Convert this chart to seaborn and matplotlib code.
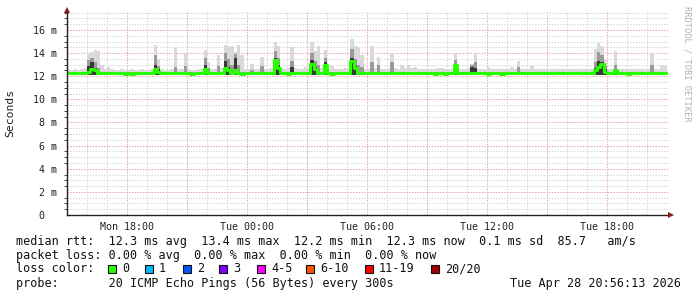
import numpy as np
import pandas as pd
import matplotlib
matplotlib.use("Agg")
import matplotlib.pyplot as plt
import seaborn as sns
from matplotlib.patches import Rectangle
from matplotlib.lines import Line2D
from matplotlib.ticker import MultipleLocator

# ---------------- data ----------------
start_hour = 15.0          # Mon 15:00 at the left edge
step_minutes = 10

median_ms = [
    12.3, 12.3, 12.3, 12.3, 12.3, 12.3, 12.4, 12.6, 12.5, 12.3,
    12.3, 12.3, 12.3, 12.3, 12.3, 12.3, 12.3, 12.2, 12.3, 12.2,
    12.3, 12.3, 12.3, 12.3, 12.3, 12.3, 12.6, 12.4, 12.3, 12.3,
    12.3, 12.3, 12.3, 12.3, 12.3, 12.3, 12.3, 12.2, 12.3, 12.3,
    12.3, 12.6, 12.3, 12.3, 12.3, 12.3, 12.3, 12.7, 12.5, 12.3,
    12.5, 12.3, 12.2, 12.3, 12.3, 12.3, 12.3, 12.3, 12.3, 12.3,
    12.3, 12.3, 13.4, 12.7, 12.3, 12.3, 12.2, 12.3, 12.3, 12.3,
    12.3, 12.3, 12.3, 13.1, 12.6, 12.3, 12.3, 13.0, 12.3, 12.2,
    12.3, 12.3, 12.3, 12.3, 12.3, 13.3, 12.7, 12.3, 12.3, 12.3,
    12.3, 12.3, 12.3, 12.3, 12.3, 12.3, 12.3, 12.3, 12.3, 12.3,
    12.3, 12.3, 12.3, 12.3, 12.3, 12.3, 12.3, 12.3, 12.3, 12.3,
    12.2, 12.3, 12.3, 12.2, 12.3, 12.3, 13.0, 12.3, 12.3, 12.3,
    12.3, 12.3, 12.3, 12.3, 12.3, 12.3, 12.2, 12.3, 12.3, 12.3,
    12.2, 12.3, 12.3, 12.3, 12.3, 12.3, 12.3, 12.3, 12.3, 12.3,
    12.3, 12.3, 12.3, 12.3, 12.3, 12.3, 12.3, 12.3, 12.3, 12.3,
    12.3, 12.3, 12.3, 12.3, 12.3, 12.3, 12.3, 12.3, 12.5, 12.8,
    13.1, 12.4, 12.3, 12.3, 12.5, 12.3, 12.3, 12.3, 12.2, 12.3,
    12.3, 12.3, 12.3, 12.3, 12.3, 12.3, 12.3, 12.3, 12.3, 12.3,
]

smoke_top = [
    12.6, 12.55, 12.6, 12.55, 12.6, 12.7, 14.0, 14.1, 14.3, 14.2,
    13.0, 12.6, 12.8, 12.6, 12.55, 12.55, 12.6, 12.55, 12.55, 12.6,
    12.55, 12.55, 12.6, 12.55, 12.55, 12.6, 14.7, 13.5, 12.6, 12.55,
    12.55, 12.6, 14.5, 12.6, 12.6, 14.0, 12.6, 12.55, 12.55, 12.6,
    12.6, 14.3, 13.2, 12.6, 12.6, 13.8, 12.7, 14.7, 14.6, 14.6,
    14.1, 14.7, 13.8, 12.6, 12.6, 13.1, 12.6, 12.6, 13.7, 12.6,
    12.6, 12.7, 15.0, 14.6, 12.6, 12.6, 12.7, 14.5, 12.7, 12.6,
    12.6, 12.8, 12.6, 15.0, 14.2, 14.6, 12.7, 14.3, 12.6, 12.9,
    12.6, 12.6, 12.6, 12.7, 12.6, 15.2, 14.6, 14.5, 13.8, 12.6,
    12.6, 14.6, 12.7, 13.7, 12.6, 12.6, 12.6, 14.0, 12.7, 12.6,
    13.0, 12.7, 13.0, 12.7, 12.8, 12.6, 12.6, 12.6, 12.6, 12.6,
    12.6, 12.7, 12.7, 12.6, 12.6, 12.6, 13.9, 12.6, 12.6, 12.6,
    12.7, 13.1, 14.0, 12.6, 12.6, 12.6, 12.8, 12.6, 12.6, 12.6,
    12.6, 12.6, 12.6, 12.8, 12.6, 13.3, 12.6, 12.6, 12.6, 12.9,
    12.6, 12.6, 12.6, 12.6, 12.6, 12.6, 12.6, 12.6, 12.6, 12.6,
    12.6, 12.6, 12.6, 12.6, 12.6, 12.6, 12.6, 12.6, 14.4, 14.9,
    14.6, 13.5, 12.6, 12.6, 14.2, 12.6, 12.6, 12.6, 12.6, 12.6,
    12.6, 12.6, 12.6, 12.6, 12.6, 14.0, 12.6, 12.6, 13.0, 12.9,
]

smoke_mid = [
    12.4, 12.4, 12.4, 12.4, 12.4, 12.4, 13.4, 13.6, 13.2, 12.7,
    12.4, 12.4, 12.4, 12.4, 12.4, 12.4, 12.4, 12.4, 12.4, 12.4,
    12.4, 12.4, 12.4, 12.4, 12.4, 12.4, 13.8, 12.9, 12.4, 12.4,
    12.4, 12.4, 12.8, 12.4, 12.4, 12.9, 12.4, 12.4, 12.4, 12.4,
    12.4, 13.6, 12.7, 12.4, 12.4, 12.9, 12.4, 14.0, 13.5, 13.0,
    13.9, 13.0, 12.4, 12.4, 12.4, 12.5, 12.4, 12.4, 12.9, 12.4,
    12.4, 12.4, 14.2, 13.6, 12.4, 12.4, 12.4, 13.3, 12.4, 12.4,
    12.4, 12.4, 12.4, 14.0, 13.3, 13.0, 12.4, 13.6, 12.4, 12.4,
    12.4, 12.4, 12.4, 12.4, 12.4, 14.4, 13.5, 13.0, 12.8, 12.4,
    12.4, 13.2, 12.4, 13.0, 12.4, 12.4, 12.4, 13.2, 12.4, 12.4,
    12.4, 12.4, 12.4, 12.4, 12.4, 12.4, 12.4, 12.4, 12.4, 12.4,
    12.4, 12.4, 12.4, 12.4, 12.4, 12.4, 13.4, 12.4, 12.4, 12.4,
    12.4, 13.0, 13.2, 12.4, 12.4, 12.4, 12.4, 12.4, 12.4, 12.4,
    12.4, 12.4, 12.4, 12.4, 12.4, 12.8, 12.4, 12.4, 12.4, 12.4,
    12.4, 12.4, 12.4, 12.4, 12.4, 12.4, 12.4, 12.4, 12.4, 12.4,
    12.4, 12.4, 12.4, 12.4, 12.4, 12.4, 12.4, 12.4, 13.2, 14.1,
    13.8, 12.9, 12.4, 12.4, 13.0, 12.4, 12.4, 12.4, 12.4, 12.4,
    12.4, 12.4, 12.4, 12.4, 12.4, 13.0, 12.4, 12.4, 12.4, 12.4,
]

smoke_dark = [
    12.3, 12.3, 12.3, 12.3, 12.3, 12.3, 12.9, 13.2, 12.7, 12.3,
    12.3, 12.3, 12.3, 12.3, 12.3, 12.3, 12.3, 12.3, 12.3, 12.3,
    12.3, 12.3, 12.3, 12.3, 12.3, 12.3, 13.0, 12.6, 12.3, 12.3,
    12.3, 12.3, 12.3, 12.3, 12.3, 12.3, 12.3, 12.3, 12.3, 12.3,
    12.3, 13.0, 12.3, 12.3, 12.3, 12.3, 12.3, 13.3, 12.8, 12.3,
    13.6, 12.3, 12.3, 12.3, 12.3, 12.3, 12.3, 12.3, 12.3, 12.3,
    12.3, 12.3, 13.6, 13.0, 12.3, 12.3, 12.3, 12.8, 12.3, 12.3,
    12.3, 12.3, 12.3, 13.4, 12.8, 12.3, 12.3, 13.2, 12.3, 12.3,
    12.3, 12.3, 12.3, 12.3, 12.3, 13.6, 12.9, 12.3, 12.3, 12.3,
    12.3, 12.3, 12.3, 12.3, 12.3, 12.3, 12.3, 12.3, 12.3, 12.3,
    12.3, 12.3, 12.3, 12.3, 12.3, 12.3, 12.3, 12.3, 12.3, 12.3,
    12.3, 12.3, 12.3, 12.3, 12.3, 12.3, 13.0, 12.3, 12.3, 12.3,
    12.3, 12.8, 12.7, 12.3, 12.3, 12.3, 12.3, 12.3, 12.3, 12.3,
    12.3, 12.3, 12.3, 12.3, 12.3, 12.3, 12.3, 12.3, 12.3, 12.3,
    12.3, 12.3, 12.3, 12.3, 12.3, 12.3, 12.3, 12.3, 12.3, 12.3,
    12.3, 12.3, 12.3, 12.3, 12.3, 12.3, 12.3, 12.3, 12.7, 13.3,
    13.2, 12.6, 12.3, 12.3, 12.6, 12.3, 12.3, 12.3, 12.3, 12.3,
    12.3, 12.3, 12.3, 12.3, 12.3, 12.3, 12.3, 12.3, 12.3, 12.3,
]
smoke_floor = 12.15

x_tick_hours = [18, 24, 30, 36, 42]
x_tick_labels = ["Mon 18:00", "Tue 00:00", "Tue 06:00", "Tue 12:00", "Tue 18:00"]
y_ticks = [0, 2, 4, 6, 8, 10, 12, 14, 16]
y_tick_labels = ["0  ", "2 m", "4 m", "6 m", "8 m", "10 m", "12 m", "14 m", "16 m"]

legend_rtt = "median rtt:  12.3 ms avg  13.4 ms max  12.2 ms min  12.3 ms now  0.1 ms sd  85.7   am/s"
legend_loss = "packet loss: 0.00 % avg  0.00 % max  0.00 % min  0.00 % now"
legend_probe = "probe:       20 ICMP Echo Pings (56 Bytes) every 300s"
legend_date = "Tue Apr 28 20:56:13 2026"
loss_labels = ["0", "1", "2", "3", "4-5", "6-10", "11-19", "20/20"]
loss_colors = ["#26ff00", "#00b8ff", "#0059ff", "#7e00ff", "#ff00ff", "#ff5500", "#ff0000", "#a10000"]

# ---------------- figure ----------------
W, H = 697, 297
sns.set_theme(style="white")
plt.rcParams["font.family"] = ["DejaVu Sans Mono", "DejaVu Sans"]

fig = plt.figure(figsize=(W / 100, H / 100), dpi=100)
fig.patch.set_facecolor("white")

def fx(px):
    return px / W

def fy(py):
    return 1 - py / H

x0, x1, y0, y1 = 67, 668, 12, 215
ax = fig.add_axes([fx(x0), fy(y1), fx(x1) - fx(x0), fy(y0) - fy(y1)])
ax.set_facecolor("white")

n = len(median_ms)
edges = start_hour + np.arange(n + 1) * step_minutes / 60.0

def ext(a):
    return np.append(np.asarray(a, dtype=float), a[-1])

px_per_ms = (215 - 30) / 16.0
ax.set_xlim(start_hour, start_hour + (x1 - x0) / 20.0)
ax.set_ylim(0, (y1 - y0) / px_per_ms)

# grid (dotted, RRDtool style)
dot = (0, (1.4, 1.4))
for h in np.arange(16, 45, 1):
    major = (h % 3 == 0)
    ax.axvline(h, color="#eba3a3" if major else "#d6d6d6", lw=0.72, ls=dot, zorder=0)
for v in np.arange(0.5, 17.6, 0.5):
    major = (v % 2 == 0)
    ax.axhline(v, color="#eba3a3" if major else "#d6d6d6", lw=0.72, ls=dot, zorder=0)

# smoke
floor = np.full(n + 1, smoke_floor)
ax.fill_between(edges, floor, ext(smoke_top), step="post", color="#d9d9d9", lw=0, zorder=2)
ax.fill_between(edges, floor, ext(smoke_mid), step="post", color="#9a9a9a", lw=0, zorder=3)
ax.fill_between(edges, floor, ext(smoke_dark), step="post", color="#383838", lw=0, zorder=4)

# median line
df = pd.DataFrame({"hour": edges, "median": ext(median_ms)})
sns.lineplot(data=df, x="hour", y="median", ax=ax, color="#26ff00", lw=2.2,
             drawstyle="steps-post", estimator=None, legend=False, zorder=5)

# axes styling
for s in ["top", "right"]:
    ax.spines[s].set_visible(False)
for s in ["left", "bottom"]:
    ax.spines[s].set_color("#222222")
    ax.spines[s].set_linewidth(1.0)
    ax.spines[s].set_zorder(6)

ax.set_xticks(x_tick_hours)
ax.set_xticklabels(x_tick_labels)
ax.set_yticks(y_ticks)
ax.set_yticklabels(y_tick_labels)
ax.yaxis.set_minor_locator(MultipleLocator(0.5))
ax.tick_params(axis="x", length=0, pad=5, labelsize=7.2, colors="#222222")
ax.tick_params(axis="y", which="major", length=3, width=0.8, pad=4, labelsize=7.2,
               colors="#222222", direction="out")
ax.tick_params(axis="y", which="minor", length=2, width=0.7, colors="#444444", direction="out", left=True)
ax.set_xlabel("")
ax.set_ylabel("")
ax.grid(False)

fig.text(fx(10), fy(113), "Seconds", rotation=90, ha="center", va="center", fontsize=8.2, color="#222222")
fig.text(fx(687), fy(6), "RRDTOOL / TOBI OETIKER", rotation=270, ha="center", va="top",
         fontsize=6.2, color="#b0b0b0")

# axis arrows
fig.add_artist(Line2D([fx(67)], [fy(10)], marker="^", ms=4.5, color="#8b1a1a", mew=0))
fig.add_artist(Line2D([fx(671)], [fy(215)], marker=">", ms=4.5, color="#8b1a1a", mew=0))

# legend text
fs = 8.45
fig.text(fx(16), fy(241), legend_rtt, ha="left", va="center", fontsize=fs, color="#111111")
fig.text(fx(16), fy(255), legend_loss, ha="left", va="center", fontsize=fs, color="#111111")
fig.text(fx(16), fy(269), "loss color:", ha="left", va="center", fontsize=fs, color="#111111")
fig.text(fx(16), fy(284), legend_probe, ha="left", va="center", fontsize=fs, color="#111111")
fig.text(fx(681), fy(284), legend_date, ha="right", va="center", fontsize=fs, color="#111111")

box_x = [108, 145, 183, 219, 257, 306, 365, 431]
for bx, lab, col in zip(box_x, loss_labels, loss_colors):
    fig.add_artist(Rectangle((fx(bx), fy(273)), fx(8), 8 / H, facecolor=col,
                             edgecolor="#111111", lw=0.8))
    fig.text(fx(bx + 14), fy(269), lab, ha="left", va="center", fontsize=fs, color="#111111")

fig.savefig("out.png", dpi=100, facecolor="white")
